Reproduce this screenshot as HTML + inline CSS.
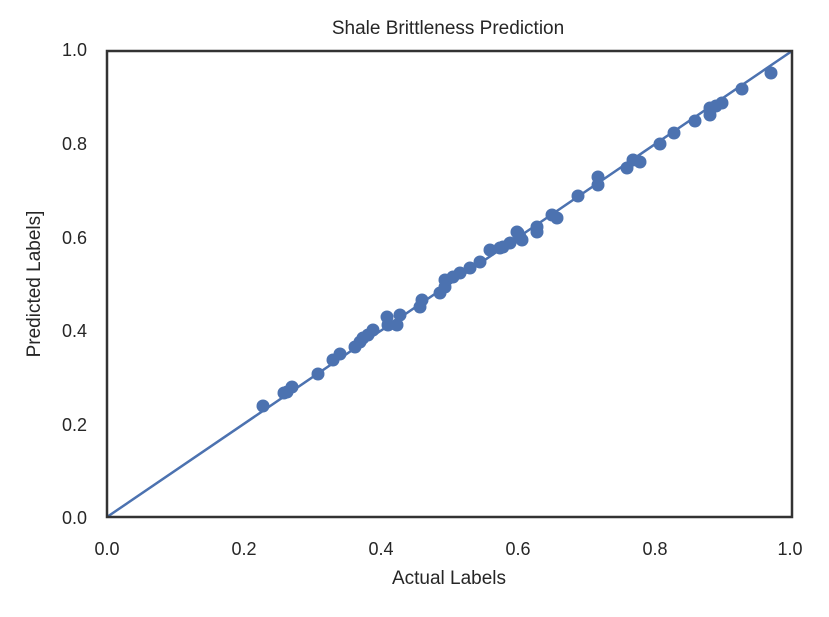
<!DOCTYPE html>
<html><head><meta charset="utf-8"><style>
html,body{margin:0;padding:0;background:#fff;}
svg text{font-family:"Liberation Sans",Arial,sans-serif;fill:#262626;}
</style></head><body>
<svg width="829" height="612" viewBox="0 0 829 612" xmlns="http://www.w3.org/2000/svg">
<rect width="829" height="612" fill="#fff"/>
<text x="448" y="34" font-size="19" text-anchor="middle">Shale Brittleness Prediction</text>
<line x1="107" y1="517" x2="792" y2="51" stroke="#4c72b0" stroke-width="2.5"/>
<g fill="#4c72b0">
<circle cx="263" cy="406" r="6.5"/><circle cx="284" cy="393" r="6.5"/><circle cx="287" cy="392" r="6.5"/><circle cx="292" cy="387" r="6.5"/>
<circle cx="318" cy="374" r="6.5"/><circle cx="333" cy="360" r="6.5"/><circle cx="340" cy="354" r="6.5"/><circle cx="355" cy="347" r="6.5"/>
<circle cx="360" cy="342" r="6.5"/><circle cx="363" cy="338" r="6.5"/><circle cx="368" cy="335" r="6.5"/><circle cx="373" cy="330" r="6.5"/>
<circle cx="387" cy="317" r="6.5"/><circle cx="388" cy="325" r="6.5"/><circle cx="400" cy="315" r="6.5"/><circle cx="397" cy="325" r="6.5"/>
<circle cx="420" cy="307" r="6.5"/><circle cx="422" cy="300" r="6.5"/><circle cx="440" cy="293" r="6.5"/><circle cx="445" cy="287" r="6.5"/>
<circle cx="445" cy="280" r="6.5"/><circle cx="453" cy="277" r="6.5"/><circle cx="460" cy="273" r="6.5"/><circle cx="470" cy="268" r="6.5"/>
<circle cx="480" cy="262" r="6.5"/><circle cx="490" cy="250" r="6.5"/><circle cx="500" cy="248" r="6.5"/><circle cx="510" cy="243" r="6.5"/>
<circle cx="503" cy="247" r="6.5"/><circle cx="518" cy="233" r="6.5"/><circle cx="520" cy="237" r="6.5"/><circle cx="517" cy="232" r="6.5"/>
<circle cx="522" cy="240" r="6.5"/><circle cx="537" cy="227" r="6.5"/><circle cx="537" cy="232" r="6.5"/><circle cx="552" cy="215" r="6.5"/>
<circle cx="557" cy="218" r="6.5"/><circle cx="578" cy="196" r="6.5"/><circle cx="598" cy="177" r="6.5"/><circle cx="598" cy="185" r="6.5"/>
<circle cx="627" cy="168" r="6.5"/><circle cx="633" cy="160" r="6.5"/><circle cx="640" cy="162" r="6.5"/><circle cx="660" cy="144" r="6.5"/>
<circle cx="674" cy="133" r="6.5"/><circle cx="695" cy="121" r="6.5"/><circle cx="710" cy="108" r="6.5"/><circle cx="710" cy="115" r="6.5"/>
<circle cx="716" cy="106" r="6.5"/><circle cx="722" cy="103" r="6.5"/><circle cx="742" cy="89" r="6.5"/><circle cx="771" cy="73" r="6.5"/>
</g>
<rect x="107" y="51" width="685" height="466" fill="none" stroke="#333" stroke-width="2.5"/>
<g font-size="18" text-anchor="end">
<text x="87" y="524">0.0</text><text x="87" y="431">0.2</text><text x="87" y="337">0.4</text>
<text x="87" y="244">0.6</text><text x="87" y="150">0.8</text><text x="87" y="56">1.0</text>
</g>
<g font-size="18" text-anchor="middle">
<text x="107" y="555">0.0</text><text x="244" y="555">0.2</text><text x="381" y="555">0.4</text>
<text x="518" y="555">0.6</text><text x="655" y="555">0.8</text><text x="790" y="555">1.0</text>
</g>
<text x="449" y="584" font-size="19" text-anchor="middle">Actual Labels</text>
<text transform="translate(40,284) rotate(-90)" font-size="19" text-anchor="middle">Predicted Labels]</text>
</svg>
</body></html>
